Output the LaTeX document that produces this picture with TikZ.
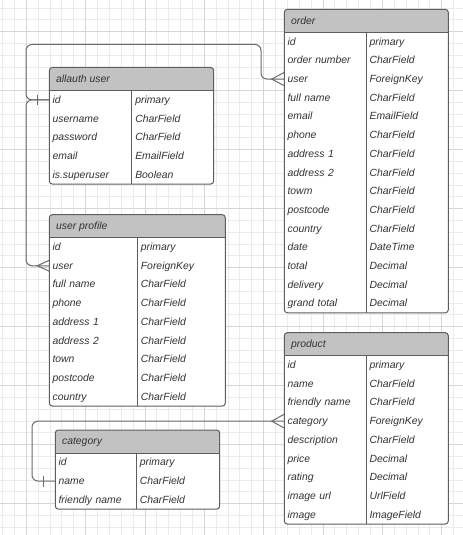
\documentclass[tikz,border=0pt]{standalone}
\usepackage{fontspec}
\setmainfont{Liberation Sans}
\usetikzlibrary{calc}
\definecolor{gridminor}{HTML}{EBEBEB}
\definecolor{gridmajor}{HTML}{D6D6D6}
\definecolor{hdr}{HTML}{C2C2C2}
\definecolor{edgecol}{HTML}{5E5E5E}
\definecolor{txt}{HTML}{333333}
\definecolor{linkcol}{HTML}{6A6A6A}
\tikzset{
  x=0.75pt, y=-0.75pt,
  edgeline/.style={draw=edgecol, line width=0.75pt},
  linkline/.style={draw=linkcol, line width=0.75pt},
  fieldcell/.style={anchor=west, inner xsep=2.25pt, inner ysep=0pt, text height=7pt, text depth=1.8pt,
    text=txt, font=\fontsize{7.8pt}{9pt}\selectfont\itshape, align=left},
  typetext/.style={anchor=west, inner sep=0pt, text height=7pt, text depth=1.8pt,
    text=txt, font=\fontsize{7.8pt}{9pt}\selectfont\itshape},
  titletext/.style={anchor=west, inner sep=0pt, text height=7pt, text depth=1.8pt,
    text=txt, font=\fontsize{7.8pt}{9pt}\selectfont\itshape},
}
% #1 name, #2 left, #3 top, #4 right, #5 divider, #6 rows, #7 title, #8 entries
\newcommand\ertable[8]{%
  \pgfmathsetmacro\hb{#3+23}%
  \pgfmathsetmacro\bt{\hb+#6*18.7}%
  \pgfmathsetmacro\tw{(#5-#2)*0.75-4.5}%
  \fill[white, rounded corners=2.25pt] (#2,#3) rectangle (#4,\bt);
  \begin{scope}
    \clip (#2,#3) rectangle (#4,\hb);
    \fill[hdr, rounded corners=2.25pt] (#2,#3) rectangle (#4,\bt);
  \end{scope}
  \draw[edgeline] (#2,\hb) -- (#4,\hb);
  \draw[edgeline] (#5,\hb) -- (#5,\bt);
  \draw[edgeline, rounded corners=2.25pt] (#2,#3) rectangle (#4,\bt);
  \node[titletext] (#1) at ({#2+6.5}, {(#3+\hb)/2}) {#7};
  \foreach \k/\f/\t [count=\i from 0] in {#8} {
    \pgfmathsetmacro\ry{\hb+(\i+0.5)*18.7}
    \node[fieldcell, text width=\tw pt] (#1-\k) at (#2,\ry) {\f};
    \node[typetext] (#1-\k-t) at ({#5+3.3},\ry) {\t};
  }
}
\begin{document}
\begin{tikzpicture}
\useasboundingbox (0,0) rectangle (463,535);
\fill[white] (0,0) rectangle (463,535);
% grid
\foreach \i in {0,...,38} {
  \pgfmathsetmacro\gx{2.56+\i*11.87}
  \draw[gridminor, line width=0.75pt] (\gx,0) -- (\gx,535);
}
\foreach \i in {0,...,44} {
  \pgfmathsetmacro\gy{8.1+\i*11.8}
  \draw[gridminor, line width=0.75pt] (0,\gy) -- (463,\gy);
}
\foreach \i in {2,7,...,37} {
  \pgfmathsetmacro\gx{2.56+\i*11.87}
  \draw[gridmajor, line width=0.75pt] (\gx,0) -- (\gx,535);
}
\foreach \i in {2,7,...,42} {
  \pgfmathsetmacro\gy{8.1+\i*11.8}
  \draw[gridmajor, line width=0.75pt] (0,\gy) -- (463,\gy);
}
% tables
\ertable{allauth}{49.3}{67.5}{213.7}{131.7}{5}{allauth user}{%
  id/id/primary, username/username/CharField, password/password/CharField,
  email/email/EmailField, superuser/is.superuser/Boolean}
\ertable{order}{284.3}{9.3}{448.3}{366}{15}{order}{%
  id/id/primary, onum/order number/CharField, user/user/ForeignKey,
  fullname/full name/CharField, email/email/EmailField, phone/phone/CharField,
  addra/address 1/CharField, addrb/address 2/CharField, town/towm/CharField,
  postcode/postcode/CharField, country/country/CharField, date/date/DateTime,
  total/total/Decimal, delivery/delivery/Decimal, grand/grand total/Decimal}
\ertable{profile}{49.3}{214.7}{225.3}{137.3}{9}{user profile}{%
  id/id/primary, user/user/ForeignKey, fullname/full name/CharField,
  phone/phone/CharField, addra/address 1/CharField, addrb/address 2/CharField,
  town/town/CharField, postcode/postcode/CharField, country/country/CharField}
\ertable{product}{284.3}{332.7}{448.3}{366}{9}{product}{%
  id/id/primary, name/name/CharField, friendly/friendly name/CharField,
  category/category/ForeignKey, description/description/CharField,
  price/price/Decimal, rating/rating/Decimal, imageurl/image url/UrlField,
  image/image/ImageField}
\ertable{category}{55.3}{430}{219.7}{136.3}{3}{category}{%
  id/id/primary, name/name/CharField, friendly/friendly name/CharField}
% bend points
\coordinate (b1) at (26,44.5);
\coordinate (b2) at (261,44.5);
\coordinate (b3) at (26,0);
\coordinate (b4) at (32,0);
% connectors
\draw[linkline, rounded corners=4.5pt] (allauth-id.west) -| (b1) -| (b2 |- order-user.west) -- (order-user.west);
\draw[linkline, rounded corners=4.5pt] (allauth-id.west) -| (b3 |- profile-user.west) -- (profile-user.west);
\draw[linkline, rounded corners=4.5pt] (product-category.west) -| (b4 |- category-name.west) -- (category-name.west);
% one bars
\draw[linkline] ([xshift=-8.7pt,yshift=3.9pt]allauth-id.west) -- ([xshift=-8.7pt,yshift=-3.9pt]allauth-id.west);
\draw[linkline] ([xshift=-8.7pt,yshift=4.1pt]category-name.west) -- ([xshift=-8.7pt,yshift=-4.1pt]category-name.west);
% crow's feet
\draw[linkline] ([yshift=5pt]order-user.west) -- ([xshift=-9.45pt]order-user.west) -- ([yshift=-5pt]order-user.west);
\draw[linkline] ([yshift=4.1pt]profile-user.west) -- ([xshift=-9pt]profile-user.west) -- ([yshift=-4.1pt]profile-user.west);
\draw[linkline] ([yshift=5.2pt]product-category.west) -- ([xshift=-9.45pt]product-category.west) -- ([yshift=-5.2pt]product-category.west);
\end{tikzpicture}
\end{document}
